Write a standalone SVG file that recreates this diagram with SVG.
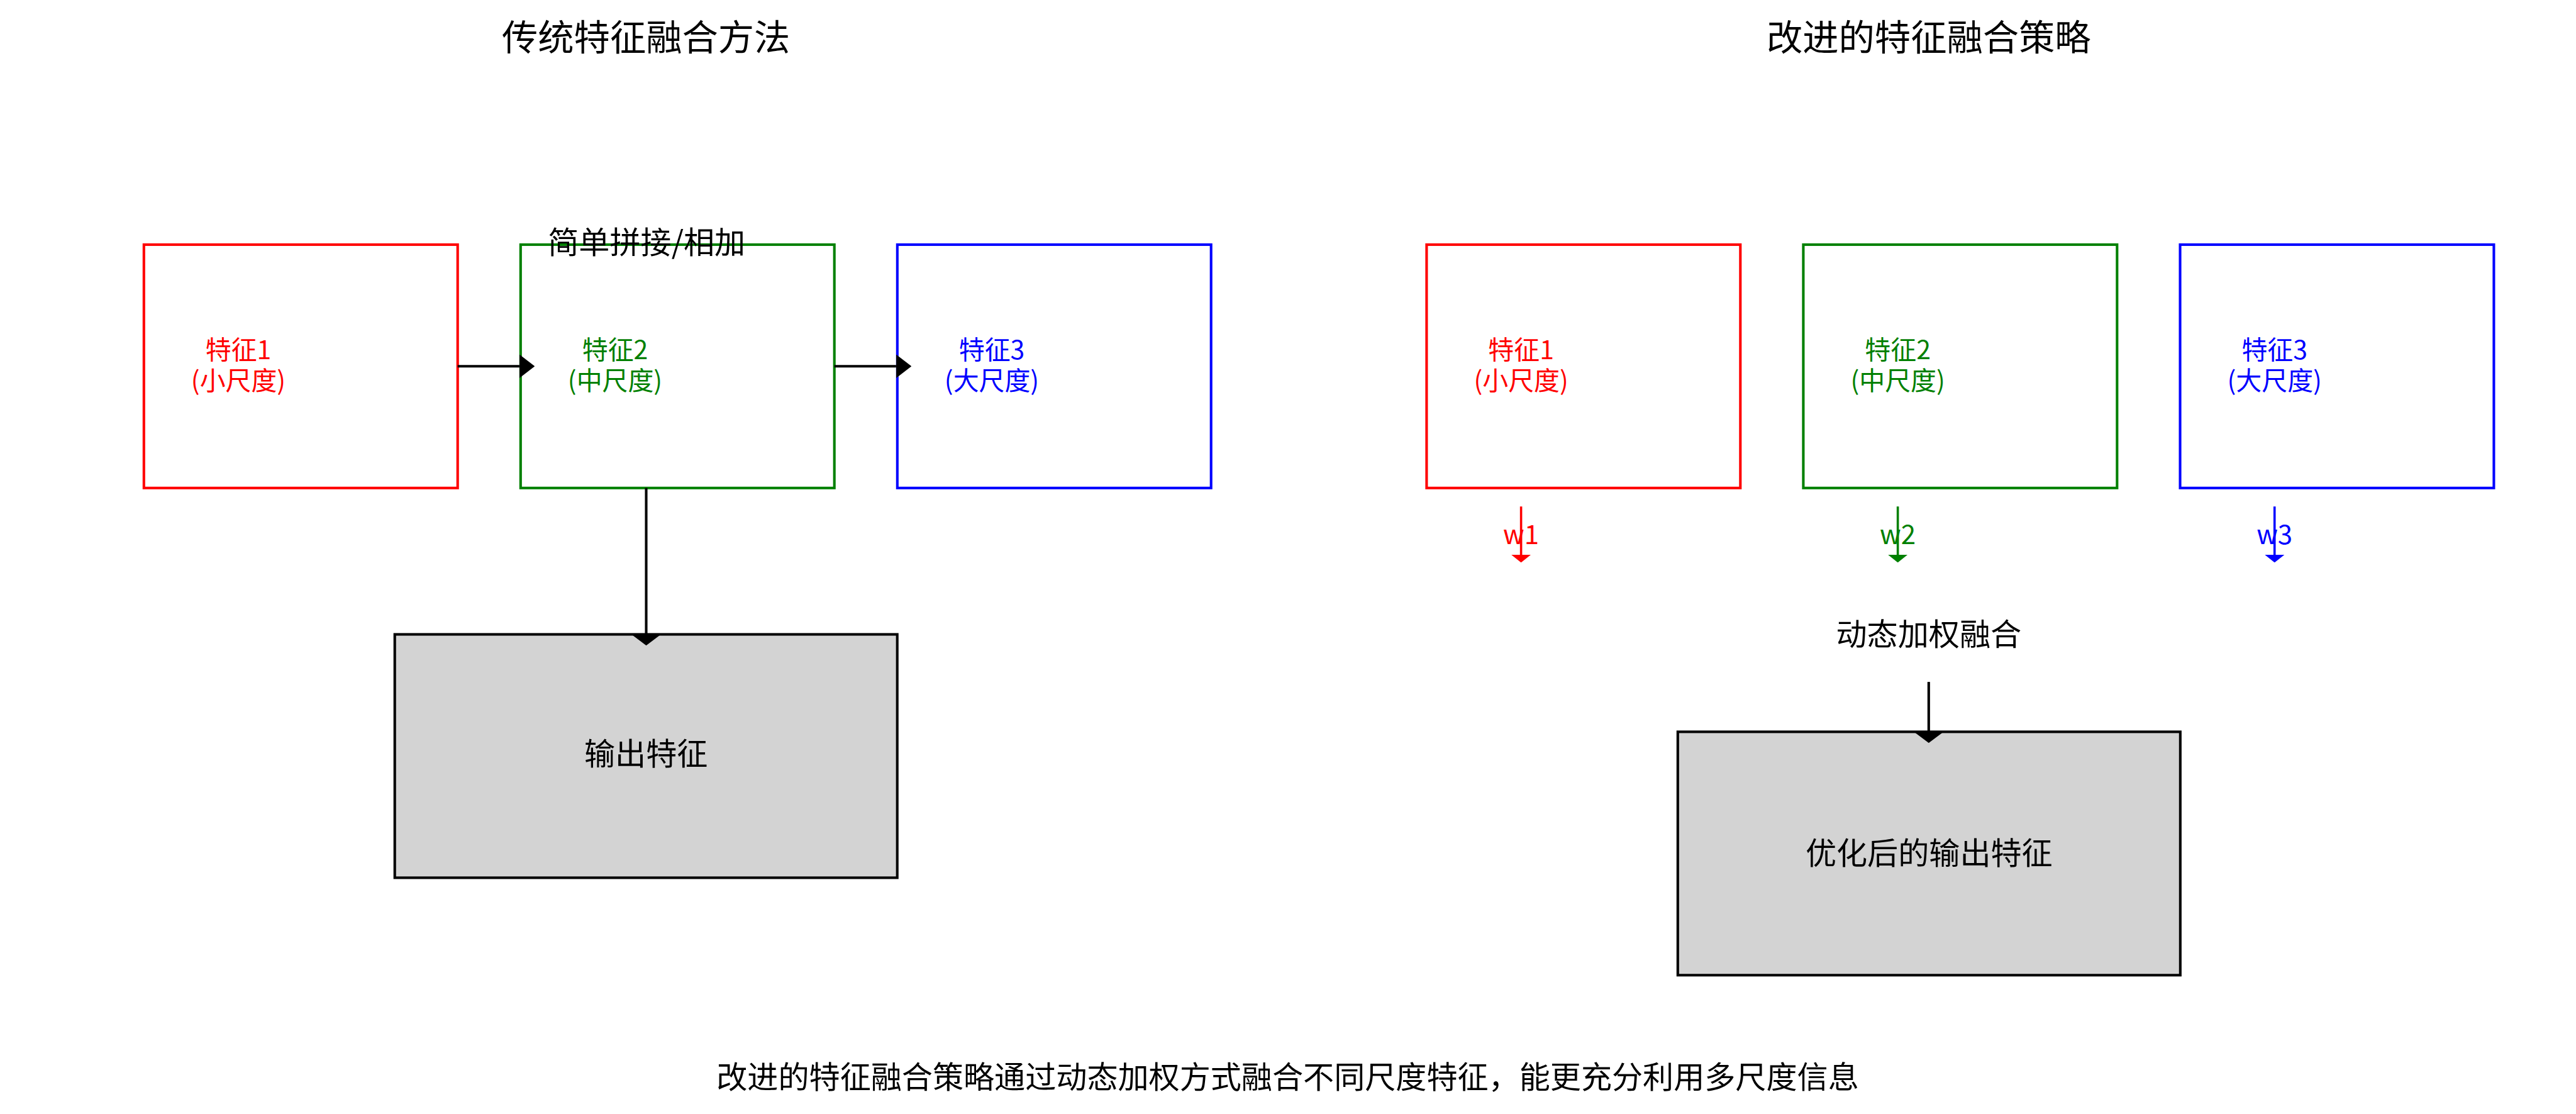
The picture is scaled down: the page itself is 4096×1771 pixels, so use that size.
<svg xmlns="http://www.w3.org/2000/svg" width="4096" height="1771" viewBox="0 0 4096 1771">
<style>
text { font-family: "Noto Sans CJK SC", "Noto Sans", sans-serif; text-anchor: middle; }
.title { font-size: 57.3px; fill: #000000; }
.lbl { font-size: 49.1px; fill: #000000; }
.feat { font-size: 40.9px; }
.wl { font-size: 42px; }
.box { fill: #ffffff; stroke-width: 4.1; }
.out { fill: #d3d3d3; stroke: #000000; stroke-width: 4.1; }
.red { stroke: #ff0000; } .redt { fill: #ff0000; }
.grn { stroke: #008000; } .grnt { fill: #008000; }
.blu { stroke: #0000ff; } .blut { fill: #0000ff; }
.conn { stroke: #000000; stroke-width: 4.1; fill: none; }
.wa { stroke-width: 3.6; fill: none; }
</style>
<defs>
<marker id="hb" markerUnits="userSpaceOnUse" viewBox="0 0 24.5 37.6" markerWidth="24.5" markerHeight="37.6" refX="0" refY="18.8" orient="auto"><path d="M0,0 L24.5,18.8 L0,37.6 Z" fill="#000000"/></marker>
<marker id="vb" markerUnits="userSpaceOnUse" viewBox="0 0 17.7 47" markerWidth="17.7" markerHeight="47" refX="0" refY="23.5" orient="auto"><path d="M0,0 L17.7,23.5 L0,47 Z" fill="#000000"/></marker>
<marker id="wr" markerUnits="userSpaceOnUse" viewBox="0 0 12.2 30.8" markerWidth="12.2" markerHeight="30.8" refX="0" refY="15.4" orient="auto"><path d="M0,0 L12.2,15.4 L0,30.8 Z" fill="#ff0000"/></marker>
<marker id="wg" markerUnits="userSpaceOnUse" viewBox="0 0 12.2 30.8" markerWidth="12.2" markerHeight="30.8" refX="0" refY="15.4" orient="auto"><path d="M0,0 L12.2,15.4 L0,30.8 Z" fill="#008000"/></marker>
<marker id="wb" markerUnits="userSpaceOnUse" viewBox="0 0 12.2 30.8" markerWidth="12.2" markerHeight="30.8" refX="0" refY="15.4" orient="auto"><path d="M0,0 L12.2,15.4 L0,30.8 Z" fill="#0000ff"/></marker>
</defs>
<rect x="0" y="0" width="4096" height="1771" fill="#ffffff"/>

<text id="title-left" class="title" x="1027.2" y="79.8">传统特征融合方法</text>
<text id="title-right" class="title" x="3066.8" y="79.8">改进的特征融合策略</text>

<g id="left-f1">
<rect class="box red" x="228.8" y="388.9" width="498.9" height="386.9"/>
<text class="feat redt" x="379" y="571">特征1<tspan x="379" dy="48.5">(小尺度)</tspan></text>
</g>
<g id="left-f2">
<rect class="box grn" x="827.8" y="388.9" width="498.9" height="386.9"/>
<text class="feat grnt" x="978" y="571">特征2<tspan x="978" dy="48.5">(中尺度)</tspan></text>
</g>
<g id="left-f3">
<rect class="box blu" x="1426.8" y="388.9" width="498.9" height="386.9"/>
<text class="feat blut" x="1577" y="571">特征3<tspan x="1577" dy="48.5">(大尺度)</tspan></text>
</g>
<g id="left-out">
<rect class="out" x="627.7" y="1008.5" width="799" height="386.9"/>
<text class="lbl" x="1027.2" y="1216.2">输出特征</text>
</g>

<g id="right-f1">
<rect class="box red" x="2268.4" y="388.9" width="498.9" height="386.9"/>
<text class="feat redt" x="2418.6" y="571">特征1<tspan x="2418.6" dy="48.5">(小尺度)</tspan></text>
</g>
<g id="right-f2">
<rect class="box grn" x="2867.4" y="388.9" width="498.9" height="386.9"/>
<text class="feat grnt" x="3017.6" y="571">特征2<tspan x="3017.6" dy="48.5">(中尺度)</tspan></text>
</g>
<g id="right-f3">
<rect class="box blu" x="3466.5" y="388.9" width="498.9" height="386.9"/>
<text class="feat blut" x="3616.7" y="571">特征3<tspan x="3616.7" dy="48.5">(大尺度)</tspan></text>
</g>
<g id="right-out">
<rect class="out" x="2667.8" y="1163.4" width="799" height="386.9"/>
<text class="lbl" x="3067.3" y="1373.9">优化后的输出特征</text>
</g>

<g id="connectors">
<line class="conn" x1="727.7" y1="582.3" x2="825.9" y2="582.3" marker-end="url(#hb)"/>
<line class="conn" x1="1326.7" y1="582.3" x2="1424.9" y2="582.3" marker-end="url(#hb)"/>
<line class="conn" x1="1027.5" y1="775.8" x2="1027.5" y2="1008.5" marker-end="url(#vb)"/>
<line class="conn" x1="3066.8" y1="1084.1" x2="3066.8" y2="1163.4" marker-end="url(#vb)"/>
<line class="wa red" x1="2418.6" y1="805.2" x2="2418.6" y2="882.1" marker-end="url(#wr)"/>
<line class="wa grn" x1="3017.6" y1="805.2" x2="3017.6" y2="882.1" marker-end="url(#wg)"/>
<line class="wa blu" x1="3616.7" y1="805.2" x2="3616.7" y2="882.1" marker-end="url(#wb)"/>
<text class="lbl" x="1028.2" y="402.7">简单拼接/相加</text>
<text class="wl redt" x="2418.6" y="865.2">w1</text>
<text class="wl grnt" x="3017.6" y="865.2">w2</text>
<text class="wl blut" x="3616.7" y="865.2">w3</text>
<text class="lbl" x="3066.8" y="1025.7">动态加权融合</text>
</g>

<text id="caption" class="lbl" x="2047.5" y="1729.8">改进的特征融合策略通过动态加权方式融合不同尺度特征，能更充分利用多尺度信息</text>
</svg>
